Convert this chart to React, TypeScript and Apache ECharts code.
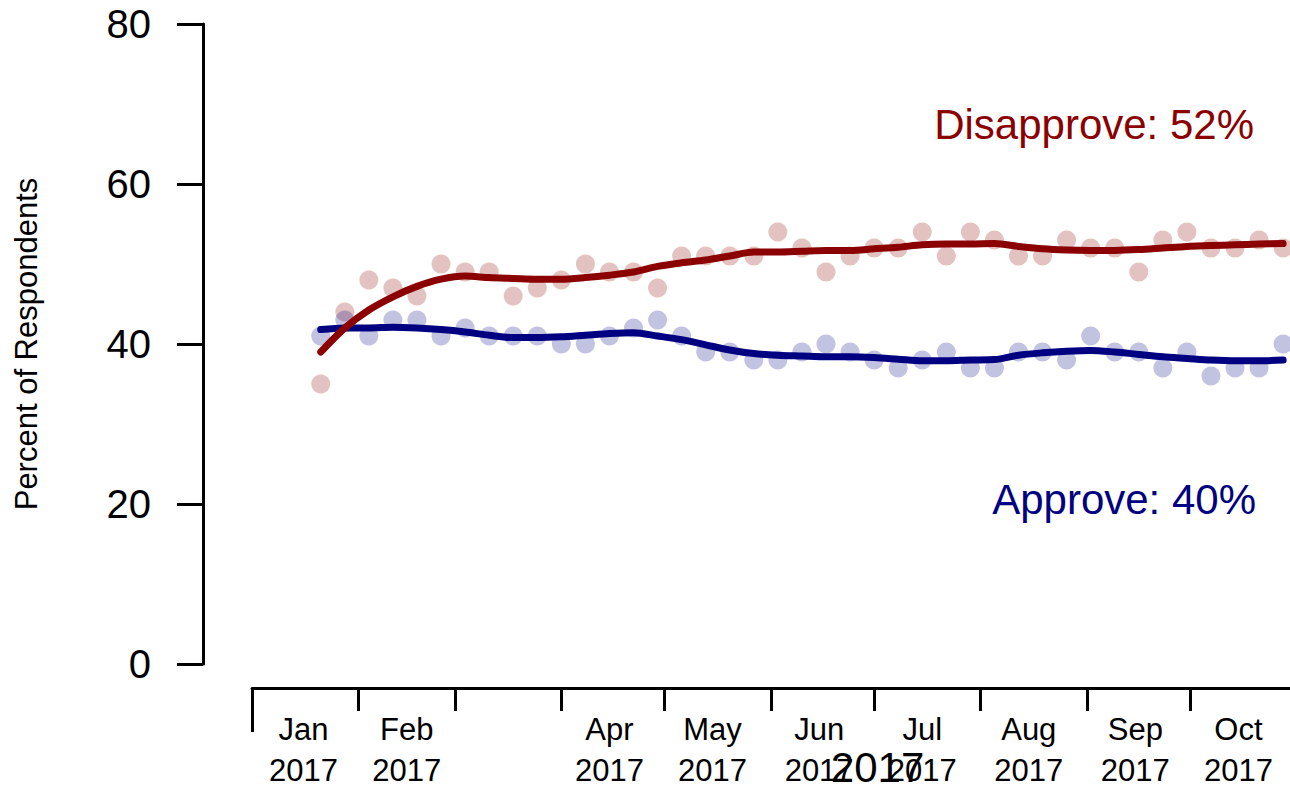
import React, { useEffect, useRef } from "react";
import * as echarts from "echarts";

// Weekly poll dates
const pollDates = [
  "2017-01-21", "2017-01-28", "2017-02-04", "2017-02-11", "2017-02-18", "2017-02-25",
  "2017-03-04", "2017-03-11", "2017-03-18", "2017-03-25", "2017-04-01", "2017-04-08",
  "2017-04-15", "2017-04-22", "2017-04-29", "2017-05-06", "2017-05-13", "2017-05-20",
  "2017-05-27", "2017-06-03", "2017-06-10", "2017-06-17", "2017-06-24", "2017-07-01",
  "2017-07-08", "2017-07-15", "2017-07-22", "2017-07-29", "2017-08-05", "2017-08-12",
  "2017-08-19", "2017-08-26", "2017-09-02", "2017-09-09", "2017-09-16", "2017-09-23",
  "2017-09-30", "2017-10-07", "2017-10-14", "2017-10-21", "2017-10-28",
];

const approve = [
  41, 43, 41, 43, 43, 41, 42, 41, 41, 41, 40, 40, 41, 42, 43, 41,
  39, 39, 38, 38, 39, 40, 39, 38, 37, 38, 39, 37,
  37, 39, 39, 38, 41, 39, 39, 37, 39, 36, 37, 37, 40,
];

const disapprove = [
  35, 44, 48, 47, 46, 50, 49, 49, 46, 47, 48, 50, 49, 49, 47, 51,
  51, 51, 51, 54, 52, 49, 51, 52, 52, 54, 51, 54,
  53, 51, 51, 53, 52, 52, 49, 53, 54, 52, 52, 53, 52,
];

const approveTrend = [
  41.8, 42.0, 42.0, 42.1, 42.0, 41.8, 41.5, 41.1, 40.8, 40.8, 40.9, 41.1, 41.3, 41.4, 41.0, 40.55,
  39.9, 39.25, 38.8, 38.6, 38.5, 38.4, 38.4, 38.3, 38.1, 37.9, 37.9, 38.0,
  38.05, 38.6, 38.9, 39.1, 39.2, 39.0, 38.7, 38.4, 38.2, 38.0, 37.9, 37.9, 38.0,
];

const disapproveTrend = [
  39.0, 42.0, 44.25, 45.9, 47.2, 48.1, 48.5, 48.3, 48.2, 48.1, 48.1, 48.3, 48.6, 49.0, 49.7, 50.15,
  50.5, 51.0, 51.5, 51.5, 51.6, 51.7, 51.7, 51.9, 52.1, 52.4, 52.5, 52.5,
  52.55, 52.2, 51.9, 51.75, 51.7, 51.7, 51.8, 52.0, 52.2, 52.3, 52.4, 52.5, 52.55,
];

const monthStarts = [
  "2017-01-01", "2017-02-01", "2017-03-01", "2017-04-01", "2017-05-01",
  "2017-06-01", "2017-07-01", "2017-08-01", "2017-09-01", "2017-10-01",
];
const monthLabelDates = [
  "2017-01-16", "2017-02-15", "2017-04-15", "2017-05-15", "2017-06-15",
  "2017-07-15", "2017-08-15", "2017-09-15", "2017-10-15",
];
const monthLabels = [
  "Jan\n2017", "Feb\n2017", "Apr\n2017", "May\n2017", "Jun\n2017",
  "Jul\n2017", "Aug\n2017", "Sep\n2017", "Oct\n2017",
];
const yearStarts = ["2017-01-01"];
const yearLabelDates = ["2017-07-02"];
const yearLabels = ["2017"];

const axisStart = "2017-01-01";
const axisEnd = "2017-10-30";

const yMin = 0;
const yMax = 80;
const yStep = 20;

const approveLabel = "Approve: 40%";
const disapproveLabel = "Disapprove: 52%";
const yTitle = "Percent of Respondents";

const dayOf = (s: string) =>
  Math.round((Date.parse(s + "T00:00:00Z") - Date.parse(axisStart + "T00:00:00Z")) / 86400000);

const FONT = "'Liberation Sans', Arial, Helvetica, sans-serif";
const DARKRED = "#8B0000";
const NAVY = "#000080";

export default function App() {
  const ref = useRef<HTMLDivElement>(null);
  useEffect(() => {
    if (!ref.current) return;
    const chart = echarts.init(ref.current, undefined, { renderer: "svg" });
    const labelDays = monthLabelDates.map(dayOf);
    const yearLabelDays = yearLabelDates.map(dayOf);
    const xmax = dayOf(axisEnd);
    const pts = (vals: number[]) => pollDates.map((d, i) => [dayOf(d), vals[i]]);
    chart.setOption({
      animation: false,
      backgroundColor: "#ffffff",
      textStyle: { fontFamily: FONT },
      grid: {
        left: 252,
        right: 0,
        top: 24,
        bottom: 122,
        containLabel: false,
        outerBoundsMode: "none",
      },
      xAxis: [
        {
          type: "value",
          min: 0,
          max: xmax,
          position: "bottom",
          offset: 24,
          splitLine: { show: false },
          axisLine: { show: true, onZero: false, lineStyle: { color: "#000", width: 3 } },
          axisTick: {
            show: true,
            customValues: monthStarts.map(dayOf),
            length: 23,
            lineStyle: { color: "#000", width: 3 },
          },
          axisLabel: {
            customValues: labelDays,
            formatter: (v: number) => {
              const i = labelDays.indexOf(Math.round(v));
              return i >= 0 ? monthLabels[i] : "";
            },
            fontSize: 31,
            lineHeight: 41,
            color: "#000",
            margin: 21,
            fontFamily: FONT,
          },
        },
        {
          type: "value",
          min: 0,
          max: xmax,
          position: "bottom",
          offset: 24,
          splitLine: { show: false },
          axisLine: { show: false, onZero: false },
          axisTick: {
            show: true,
            customValues: yearStarts.map(dayOf),
            length: 44,
            lineStyle: { color: "#000", width: 3 },
          },
          axisLabel: {
            customValues: yearLabelDays,
            formatter: (v: number) => {
              const i = yearLabelDays.indexOf(Math.round(v));
              return i >= 0 ? yearLabels[i] : "";
            },
            fontSize: 42,
            lineHeight: 42,
            color: "#000",
            margin: 58,
            fontFamily: FONT,
          },
        },
      ],
      yAxis: {
        type: "value",
        min: yMin,
        max: yMax,
        interval: yStep,
        offset: 49,
        splitLine: { show: false },
        axisLine: { show: true, onZero: false, lineStyle: { color: "#000", width: 3 } },
        axisTick: { show: true, length: 26, lineStyle: { color: "#000", width: 3 } },
        axisLabel: { fontSize: 40, color: "#000", margin: 52, fontFamily: FONT },
        name: yTitle,
        nameLocation: "middle",
        nameRotate: 90,
        nameGap: 161,
        nameTextStyle: { fontSize: 31, color: "#000", fontFamily: FONT },
      },
      series: [
        {
          type: "scatter",
          xAxisIndex: 0,
          data: pts(disapprove),
          symbolSize: 19,
          itemStyle: { color: "rgba(139,0,0,0.3)" },
        },
        {
          type: "scatter",
          xAxisIndex: 0,
          data: pts(approve),
          symbolSize: 19,
          itemStyle: { color: "rgba(0,0,128,0.3)" },
        },
        {
          type: "line",
          xAxisIndex: 0,
          data: pts(approveTrend),
          showSymbol: false,
          smooth: 0.3,
          lineStyle: { color: NAVY, width: 7, cap: "round", join: "round" },
        },
        {
          type: "line",
          xAxisIndex: 0,
          data: pts(disapproveTrend),
          showSymbol: false,
          smooth: 0.3,
          lineStyle: { color: DARKRED, width: 7, cap: "round", join: "round" },
        },
      ],
      graphic: [
        {
          type: "text",
          right: 36,
          top: 103,
          style: { text: disapproveLabel, fill: DARKRED, fontSize: 42, fontFamily: FONT },
        },
        {
          type: "text",
          right: 34,
          top: 478,
          style: { text: approveLabel, fill: NAVY, fontSize: 42, fontFamily: FONT },
        },
      ],
    });
    return () => chart.dispose();
  }, []);
  return (
    <div
      ref={ref}
      style={{ position: "fixed", left: 0, top: 0, width: 1290, height: 786, background: "#fff" }}
    />
  );
}
